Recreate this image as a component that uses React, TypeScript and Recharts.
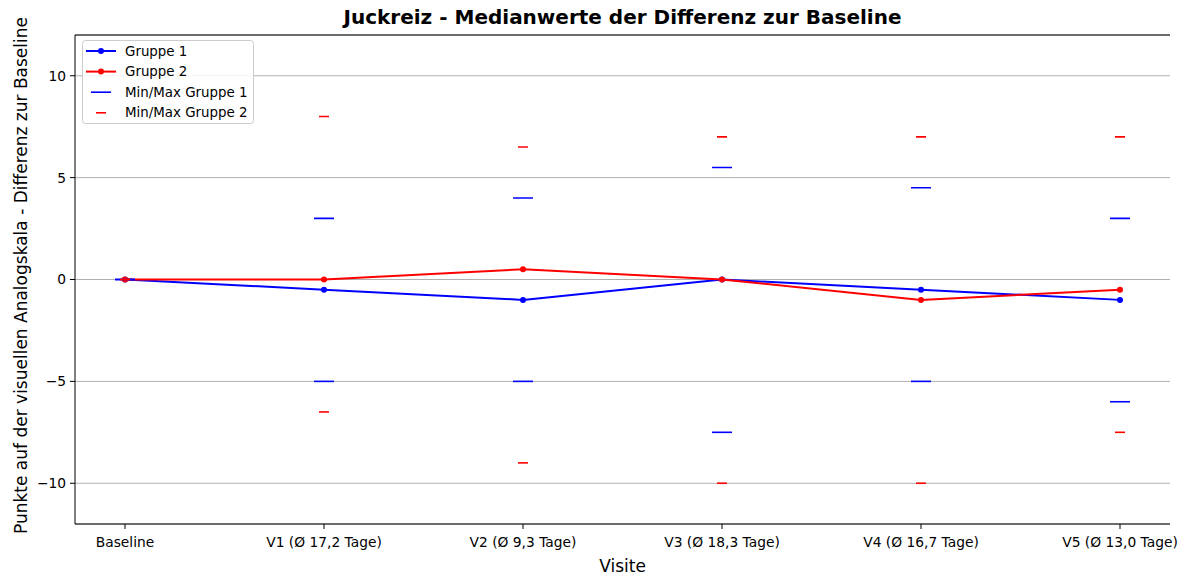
import React from 'react';
import {
  ComposedChart,
  Line,
  XAxis,
  YAxis,
  CartesianGrid,
  Label,
  ReferenceLine,
} from 'recharts';

const visits = [
  'Baseline',
  'V1 (Ø 17,2 Tage)',
  'V2 (Ø 9,3 Tage)',
  'V3 (Ø 18,3 Tage)',
  'V4 (Ø 16,7 Tage)',
  'V5 (Ø 13,0 Tage)',
];
const gruppe1Median = [0, -0.5, -1, 0, -0.5, -1];
const gruppe2Median = [0, 0, 0.5, 0, -1, -0.5];
const gruppe1Min = [0, -5, -5, -7.5, -5, -6];
const gruppe1Max = [0, 3, 4, 5.5, 4.5, 3];
const gruppe2Min = [0, -6.5, -9, -10, -10, -7.5];
const gruppe2Max = [0, 8, 6.5, 7, 7, 7];
const yTicks = [-10, -5, 0, 5, 10];

const data = visits.map((v, i) => ({
  visit: v,
  g1: gruppe1Median[i],
  g2: gruppe2Median[i],
  g1min: gruppe1Min[i],
  g1max: gruppe1Max[i],
  g2min: gruppe2Min[i],
  g2max: gruppe2Max[i],
}));

const FONT = '"DejaVu Sans", sans-serif';
const BLUE = '#0000ff';
const RED = '#ff0000';

const makeDash = (color: string, half: number) => (props: any) => {
  const { cx, cy, index } = props;
  if (cx == null || cy == null) return <g key={`d-${color}-${index}`} />;
  return (
    <line
      key={`d-${color}-${index}-${cy}`}
      x1={cx - half}
      x2={cx + half}
      y1={cy}
      y2={cy}
      stroke={color}
      strokeWidth={1.6}
    />
  );
};

const fmtY = (v: number) => (v < 0 ? '\u2212' + Math.abs(v) : String(v));

const LegendBox = () => {
  const rows = [
    { label: 'Gruppe 1', color: BLUE, kind: 'line' },
    { label: 'Gruppe 2', color: RED, kind: 'line' },
    { label: 'Min/Max Gruppe 1', color: BLUE, kind: 'dash1' },
    { label: 'Min/Max Gruppe 2', color: RED, kind: 'dash2' },
  ];
  return (
    <svg
      width={172}
      height={84}
      style={{ position: 'absolute', left: 82, top: 40 }}
    >
      <rect
        x={0.5}
        y={0.5}
        width={171}
        height={83}
        rx={3}
        fill="rgba(255,255,255,0.85)"
        stroke="#cccccc"
        strokeWidth={1}
      />
      {rows.map((r, i) => {
        const y = 11 + i * 20.6;
        return (
          <g key={r.label}>
            {r.kind === 'line' && (
              <>
                <line x1={4} x2={34} y1={y} y2={y} stroke={r.color} strokeWidth={2} />
                <circle cx={19} cy={y} r={3} fill={r.color} />
              </>
            )}
            {r.kind === 'dash1' && (
              <line x1={9} x2={29} y1={y} y2={y} stroke={r.color} strokeWidth={1.6} />
            )}
            {r.kind === 'dash2' && (
              <line x1={14} x2={24} y1={y} y2={y} stroke={r.color} strokeWidth={1.6} />
            )}
            <text
              x={43}
              y={y}
              dy="0.35em"
              fontFamily={FONT}
              fontSize={13.4}
              fill="#000"
            >
              {r.label}
            </text>
          </g>
        );
      })}
    </svg>
  );
};

export default function App() {
  return (
    <div
      style={{
        position: 'absolute',
        left: 0,
        top: 0,
        width: 1184,
        height: 576,
        background: '#fff',
        fontFamily: FONT,
      }}
    >
      <div
        style={{
          position: 'absolute',
          left: 75,
          width: 1095,
          top: 5,
          textAlign: 'center',
          fontFamily: FONT,
          fontWeight: 'bold',
          fontSize: 20,
          lineHeight: '24px',
          color: '#000',
        }}
      >
        Juckreiz - Medianwerte der Differenz zur Baseline
      </div>
      <ComposedChart
        width={1184}
        height={576}
        data={data}
        margin={{ top: 35, right: 14, left: 0, bottom: 0 }}
        style={{ fontFamily: FONT }}
      >
        <CartesianGrid vertical={false} stroke="#b0b0b0" strokeWidth={1} />
        <XAxis
          dataKey="visit"
          type="category"
          scale="point"
          padding={{ left: 50, right: 50 }}
          height={52}
          tickSize={5}
          tickMargin={8}
          axisLine={{ stroke: '#000', strokeWidth: 1 }}
          tickLine={{ stroke: '#000' }}
          tick={{ fill: '#000', fontSize: 13.8, fontFamily: FONT }}
          interval={0}
        >
          <Label
            value="Visite"
            position="insideBottom"
            offset={4}
            style={{ fill: '#000', fontSize: 17, fontFamily: FONT }}
          />
        </XAxis>
        <YAxis
          type="number"
          domain={[-12, 12]}
          ticks={yTicks}
          width={75}
          tickSize={5}
          tickMargin={4}
          tickFormatter={fmtY}
          axisLine={{ stroke: '#000', strokeWidth: 1 }}
          tickLine={{ stroke: '#000' }}
          tick={{ fill: '#000', fontSize: 13.8, fontFamily: FONT }}
          allowDataOverflow
        >
          <Label
            value="Punkte auf der visuellen Analogskala - Differenz zur Baseline"
            angle={-90}
            position="center"
            dx={-17}
            dy={-4}
            style={{ fill: '#000', fontSize: 17, fontFamily: FONT, textAnchor: 'middle' }}
          />
        </YAxis>
        <YAxis
          yAxisId="right"
          orientation="right"
          type="number"
          domain={[-12, 12]}
          width={0}
          tick={false}
          tickLine={false}
          axisLine={{ stroke: '#000', strokeWidth: 1 }}
        />
        <ReferenceLine y={12} stroke="#000" strokeWidth={1} />
        <Line
          dataKey="g1"
          stroke={BLUE}
          strokeWidth={2}
          dot={{ r: 3, fill: BLUE, stroke: BLUE, strokeWidth: 0 }}
          activeDot={false}
          isAnimationActive={false}
          type="linear"
        />
        <Line
          dataKey="g2"
          stroke={RED}
          strokeWidth={2}
          dot={{ r: 3, fill: RED, stroke: RED, strokeWidth: 0 }}
          activeDot={false}
          isAnimationActive={false}
          type="linear"
        />
        <Line dataKey="g1min" stroke="none" strokeWidth={0} dot={makeDash(BLUE, 10)} activeDot={false} isAnimationActive={false} />
        <Line dataKey="g1max" stroke="none" strokeWidth={0} dot={makeDash(BLUE, 10)} activeDot={false} isAnimationActive={false} />
        <Line dataKey="g2min" stroke="none" strokeWidth={0} dot={makeDash(RED, 5)} activeDot={false} isAnimationActive={false} />
        <Line dataKey="g2max" stroke="none" strokeWidth={0} dot={makeDash(RED, 5)} activeDot={false} isAnimationActive={false} />
      </ComposedChart>
      <LegendBox />
    </div>
  );
}
